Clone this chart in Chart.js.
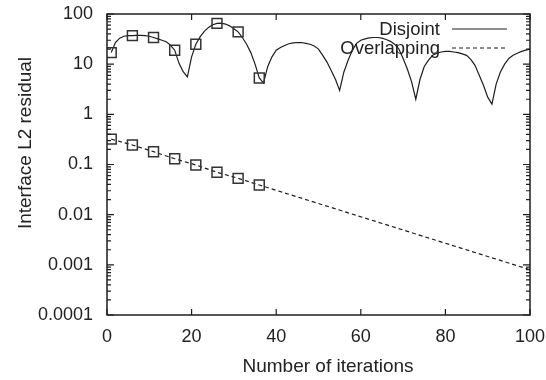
<!DOCTYPE html>
<html>
<head>
<meta charset="utf-8">
<script src="https://cdn.jsdelivr.net/npm/chart.js@4/dist/chart.umd.min.js"></script>
<style>
    html, body { margin: 0; padding: 0; background: #fff; }
    #wrap { width: 546px; height: 380px; }
</style>
</head>
<body>
<div id="wrap"><canvas id="residualChart" width="546" height="380"></canvas></div>
<script>
// Iterations and residuals
const disjointIters = [1, 2, 3, 4, 5, 6, 7, 8, 9, 10, 11, 12, 13, 14, 15, 16, 17, 18, 19, 20,
    21, 22, 23, 24, 25, 26, 27, 28, 29, 30, 31, 32, 33, 34, 35, 36, 37, 38, 39, 40,
    41, 42, 43, 44, 45, 46, 47, 48, 49, 50, 51, 52, 53, 54, 55, 56, 57, 58, 59, 60,
    61, 62, 63, 64, 65, 66, 67, 68, 69, 70, 71, 72, 73, 74, 75, 76, 77, 78, 79, 80,
    81, 82, 83, 84, 85, 86, 87, 88, 89, 90, 91, 92, 93, 94, 95, 96, 97, 98, 99, 100];
const disjointResidual = [17, 27, 33, 36, 37, 37, 37.5, 37.5, 37, 36, 34, 32, 30, 28, 24, 19, 10.5, 7.1, 5.6, 14,
    25, 35, 45, 54, 61, 65, 66, 63, 58, 51, 44, 34, 25, 17, 10, 5.3, 4.2, 9, 14, 19,
    21.5, 23.5, 25.5, 26.5, 27, 27, 26, 25, 23, 20, 15, 11, 7.5, 5, 3.0, 7, 12, 19, 26, 30,
    32, 33.5, 34, 34, 33, 31, 28.5, 25, 20, 13, 8, 4.5, 2.0, 5, 9, 12, 15, 16.5, 17.5, 18,
    18, 17.5, 17, 16, 15, 12.5, 9.5, 6, 3.8, 2.2, 1.6, 4, 7, 10, 13, 15, 16.5, 18, 19, 20];

const overlapIters = [1, 6, 11, 16, 21, 26, 31, 36, 100];
const overlapResidual = [0.32, 0.245, 0.18, 0.13, 0.098, 0.070, 0.053, 0.039, 0.0008];

// iterations that carry a square marker
const markerIters = [1, 6, 11, 16, 21, 26, 31, 36];

const xTicks = [0, 20, 40, 60, 80, 100];
const yTicks = [0.0001, 0.001, 0.01, 0.1, 1, 10, 100];
const yTickLabels = ['0.0001', '0.001', '0.01', '0.1', '1', '10', '100'];

const INK = '#1e1e1e';
const FONT = 'Liberation Sans, Arial, Helvetica, sans-serif';

function toPoints(xs, ys) {
    return xs.map((x, i) => ({ x: x, y: ys[i] }));
}

function markerRadius(ctx) {
    return markerIters.includes(ctx.raw.x) ? 7 : 0;
}

// gnuplot-like frame, inward ticks, axis titles and key
const gnuplotFrame = {
    id: 'gnuplotFrame',
    afterDatasetsDraw(chart) {
        const ctx = chart.ctx;
        const area = chart.chartArea;
        const xs = chart.scales.x;
        const ys = chart.scales.y;

        ctx.save();
        ctx.strokeStyle = INK;
        ctx.lineWidth = 1.5;
        ctx.strokeRect(area.left, area.top, area.right - area.left, area.bottom - area.top);

        ctx.lineWidth = 1.2;
        ctx.beginPath();
        xTicks.forEach(v => {
            const px = xs.getPixelForValue(v);
            ctx.moveTo(px, area.bottom);
            ctx.lineTo(px, area.bottom - 6);
            ctx.moveTo(px, area.top);
            ctx.lineTo(px, area.top + 6);
        });
        yTicks.forEach((v, i) => {
            for (let m = 1; m <= 9; m++) {
                if (i === yTicks.length - 1 && m > 1) break;
                const py = ys.getPixelForValue(v * m);
                const len = m === 1 ? 7 : 4;
                ctx.moveTo(area.left, py);
                ctx.lineTo(area.left + len, py);
                ctx.moveTo(area.right, py);
                ctx.lineTo(area.right - len, py);
            }
        });
        ctx.stroke();

        // axis titles
        ctx.fillStyle = '#222';
        ctx.font = '19px ' + FONT;
        ctx.textAlign = 'center';
        ctx.textBaseline = 'alphabetic';
        ctx.fillText('Number of iterations', 328, 372);

        ctx.save();
        ctx.translate(31, 143);
        ctx.rotate(-Math.PI / 2);
        ctx.fillText('Interface L2 residual', 0, 0);
        ctx.restore();

        // key
        ctx.font = '18.5px ' + FONT;
        ctx.textAlign = 'right';
        ctx.textBaseline = 'middle';
        chart.data.datasets.forEach((ds, i) => {
            const y = 29 + i * 19;
            ctx.fillText(ds.label, 440, y + 1);
            ctx.beginPath();
            ctx.setLineDash(ds.borderDash || []);
            ctx.lineWidth = ds.borderWidth;
            ctx.strokeStyle = ds.borderColor;
            ctx.moveTo(452, y);
            ctx.lineTo(507, y);
            ctx.stroke();
        });
        ctx.restore();
    }
};

const residualChart = new Chart(document.getElementById('residualChart'), {
    type: 'line',
    data: {
        datasets: [{
            label: 'Disjoint',
            data: toPoints(disjointIters, disjointResidual),
            borderColor: INK,
            borderWidth: 1.2,
            tension: 0,
            pointStyle: 'rect',
            pointRadius: markerRadius,
            pointBorderWidth: 1.5,
            pointBorderColor: '#333',
            pointBackgroundColor: 'rgba(0,0,0,0)'
        }, {
            label: 'Overlapping',
            data: toPoints(overlapIters, overlapResidual),
            borderColor: INK,
            borderWidth: 1.2,
            borderDash: [4, 3],
            tension: 0,
            pointStyle: 'rect',
            pointRadius: markerRadius,
            pointBorderWidth: 1.5,
            pointBorderColor: '#333',
            pointBackgroundColor: 'rgba(0,0,0,0)'
        }]
    },
    options: {
        responsive: false,
        animation: false,
        devicePixelRatio: 1,
        layout: { padding: { top: 14, right: 16, left: 0, bottom: 0 } },
        plugins: {
            legend: { display: false },
            tooltip: { enabled: false }
        },
        scales: {
            x: {
                type: 'linear',
                min: 0,
                max: 100,
                grid: { display: false, drawTicks: false },
                border: { display: false },
                afterBuildTicks: axis => { axis.ticks = xTicks.map(v => ({ value: v })); },
                afterFit: axis => {
                    axis.height = 65;
                    axis.paddingLeft = 0;
                    axis.paddingRight = 0;
                },
                ticks: {
                    padding: 11,
                    color: '#222',
                    font: { family: FONT, size: 18 },
                    maxRotation: 0
                }
            },
            y: {
                type: 'logarithmic',
                min: 0.0001,
                max: 100,
                grid: { display: false, drawTicks: false },
                border: { display: false },
                afterBuildTicks: axis => { axis.ticks = yTicks.map(v => ({ value: v })); },
                afterFit: axis => {
                    axis.width = 107;
                    axis.paddingTop = 0;
                    axis.paddingBottom = 0;
                },
                ticks: {
                    padding: 14,
                    color: '#222',
                    font: { family: FONT, size: 18 },
                    callback: function (value) {
                        const i = yTicks.indexOf(value);
                        return i >= 0 ? yTickLabels[i] : '';
                    }
                }
            }
        }
    },
    plugins: [gnuplotFrame]
});
</script>
</body>
</html>
